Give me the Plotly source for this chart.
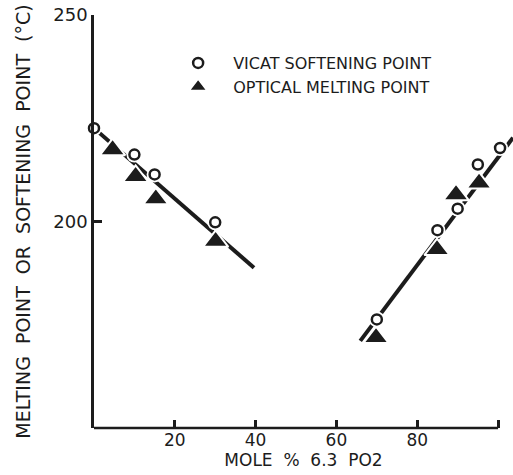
import plotly.graph_objects as go

# --- data ---
vicat_x = [0, 10, 15, 30, 70, 85, 90, 95, 100.5]
vicat_y = [222.6, 216.2, 211.4, 199.8, 176.3, 197.9, 203.1, 213.8, 217.8]

optical_x = [4.6, 10.3, 15.3, 30.1, 69.8, 84.9, 89.6, 95.3]
optical_y = [217.4, 210.9, 205.5, 195.2, 171.9, 193.2, 206.5, 209.3]

fit_left_x = [0, 39.6]
fit_left_y = [222.6, 188.8]
fit_right_x = [65.9, 103.7]
fit_right_y = [171.1, 220.3]

x_tick_vals = [20, 40, 60, 80, 100]
x_tick_text = ["20", "40", "60", "80", ""]
y_tick_vals = [200, 250]
y_tick_text = ["200", "250"]

INK = "#1c1c1c"
FONT = "DejaVu Sans"
SP = "\u00a0"

fig = go.Figure()

for fx, fy in [(fit_left_x, fit_left_y), (fit_right_x, fit_right_y)]:
    fig.add_trace(go.Scatter(x=fx, y=fy, mode="lines",
                             line=dict(color=INK, width=4),
                             showlegend=False, hoverinfo="skip"))

# white halos that break the fitted lines around the markers
fig.add_trace(go.Scatter(x=vicat_x, y=vicat_y, mode="markers",
                         marker=dict(symbol="circle", size=16, color="white"),
                         showlegend=False, hoverinfo="skip", cliponaxis=False))

fig.add_trace(go.Scatter(x=optical_x, y=optical_y, mode="markers",
                         name="OPTICAL MELTING POINT",
                         marker=dict(symbol="triangle-up", size=22, color=INK,
                                     line=dict(color="white", width=2)),
                         cliponaxis=False, legendrank=2))

fig.add_trace(go.Scatter(x=vicat_x, y=vicat_y, mode="markers",
                         name="VICAT SOFTENING POINT",
                         marker=dict(symbol="circle", size=10, color="white",
                                     line=dict(color=INK, width=2.5)),
                         cliponaxis=False, legendrank=1))

fig.add_shape(type="line", xref="x", yref="paper", x0=0, x1=100, y0=0, y1=0,
              line=dict(color=INK, width=2.5))

fig.update_layout(
    width=513, height=475,
    margin=dict(l=94, r=0, t=15, b=47),
    paper_bgcolor="white", plot_bgcolor="white",
    font=dict(family=FONT, color=INK, size=16),
    showlegend=True,
    legend=dict(x=0.165, y=0.925, xanchor="left", yanchor="top",
                itemwidth=60, bgcolor="rgba(0,0,0,0)",
                font=dict(family=FONT, size=16, color=INK),
                traceorder="normal"),
    xaxis=dict(range=[0, 103.7], showline=False, showgrid=False, zeroline=False,
               tickvals=x_tick_vals, ticktext=x_tick_text,
               ticks="inside", ticklen=8, tickwidth=2.5, tickcolor=INK,
               tickfont=dict(size=17),
               title=dict(text=f"MOLE{SP}{SP}%{SP}{SP}6.3{SP}{SP}PO2",
                          font=dict(size=17), standoff=3)),
    yaxis=dict(range=[150, 250], showline=True, linecolor=INK, linewidth=2.5,
               showgrid=False, zeroline=False,
               tickvals=y_tick_vals, ticktext=y_tick_text,
               ticks="inside", ticklen=8, tickwidth=2.5, tickcolor=INK,
               tickfont=dict(size=18),
               title=dict(text=f"MELTING{SP}{SP}POINT{SP}{SP}OR{SP}{SP}SOFTENING{SP}{SP}POINT{SP}{SP}(°C)",
                          font=dict(size=19), standoff=18)),
)

fig.write_html("out.html")
